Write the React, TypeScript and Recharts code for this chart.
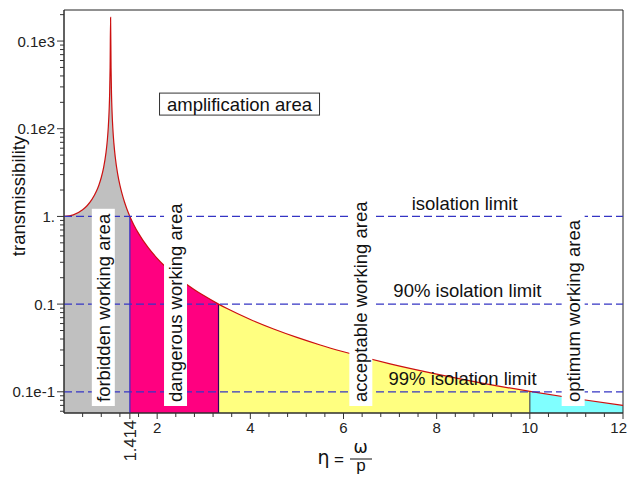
import React from 'react';
import {
  ComposedChart,
  Area,
  Line,
  XAxis,
  YAxis,
  ReferenceLine,
  ReferenceDot,
  ReferenceArea,
} from 'recharts';

// ---------- data ----------
const eta = [
  0, 0.2, 0.4, 0.5, 0.6, 0.7, 0.75, 0.8, 0.85, 0.9, 0.93, 0.95, 0.97, 0.98, 0.99, 1.0, 1.01, 1.02,
  1.03, 1.05, 1.07, 1.1, 1.15, 1.2, 1.25, 1.3, 1.35, 1.414, 1.5, 1.6, 1.8, 2.0, 2.2, 2.5, 2.8, 3.0,
  3.317, 3.5, 4, 4.5, 5, 5.5, 6, 7, 8, 9, 10, 11, 12,
];
const transmissibility = [
  1.0, 1.042, 1.19, 1.333, 1.563, 1.96, 2.286, 2.778, 3.604, 5.263, 7.4, 10.26, 16.9, 25.25, 50.3,
  186, 49.75, 24.75, 16.4, 9.76, 6.9, 4.76, 3.1, 2.27, 1.78, 1.449, 1.216, 1.0, 0.8, 0.641, 0.446,
  0.333, 0.26, 0.19, 0.146, 0.125, 0.1, 0.0889, 0.0667, 0.052, 0.0417, 0.0342, 0.0286, 0.0208,
  0.0159, 0.0125, 0.0101, 0.00833, 0.00699,
];

const zoneKeys = ['forbidden', 'dangerous', 'acceptable', 'optimum'];
const zoneBounds = [0, 1.414, 3.317, 10, 12];
const zoneLabels = [
  'forbidden working area',
  'dangerous working area',
  'acceptable working area',
  'optimum working area',
];
const zoneLabelEta = [0.844, 2.394, 6.372, 10.93];

const limitValues = [1, 0.1, 0.01];
const limitLabels = ['isolation limit', '90% isolation limit', '99% isolation limit'];
const limitLabelEta = [8.6, 8.66, 8.555];
const limitLabelValue = [1.42, 0.1448, 0.01403];

const amplificationLabel = 'amplification area';
const amplificationEta = 3.768;
const amplificationValue = 19.1;

const xMajorTicks = [2, 4, 6, 8, 10, 12];
const xSpecialTick = 1.414;
const xMinorTicks = [
  0.4, 0.8, 1.2, 1.6, 2.4, 2.8, 3.2, 3.6, 4.4, 4.8, 5.2, 5.6, 6.4, 6.8, 7.2, 7.6, 8.4, 8.8, 9.2, 9.6,
  10.4, 10.8, 11.2, 11.6,
];
const yMajorTicks = [0.01, 0.1, 1, 10, 100];
const yMajorLabels = ['0.1e-1', '0.1', '1.', '0.1e2', '0.1e3'];
const yMinorTicks = [
  0.006, 0.007, 0.008, 0.009, 0.02, 0.03, 0.04, 0.05, 0.06, 0.07, 0.08, 0.09, 0.2, 0.3, 0.4, 0.5,
  0.6, 0.7, 0.8, 0.9, 2, 3, 4, 5, 6, 7, 8, 9, 20, 30, 40, 50, 60, 70, 80, 90, 200,
];

const Y_MIN = 0.00573;
const Y_MAX = 226;
const X_MIN = 0;
const X_MAX = 12;

// ---------- table for the chart ----------
const chartData = eta.map((e, i) => {
  const row: Record<string, number | null> = { eta: e, t: transmissibility[i] };
  zoneKeys.forEach((k, z) => {
    row[k] = e >= zoneBounds[z] && e <= zoneBounds[z + 1] ? transmissibility[i] : null;
  });
  return row;
});

// ---------- styles ----------
const FONT = '"Liberation Sans", Arial, sans-serif';
const zoneColors = ['#c0c0c0', '#ff0080', '#ffff80', '#80ffff'];
const boundaryColors = ['#3030c0', '#300060', '#505050'];
const LABEL_SIZE = 18.5;
const TICK_SIZE = 15;

const measureCache: Record<string, number> = {};
function textWidth(s: string, size: number): number {
  const key = s + '|' + size;
  if (measureCache[key] !== undefined) return measureCache[key];
  let w = s.length * size * 0.47;
  try {
    const c = document.createElement('canvas').getContext('2d');
    if (c) {
      c.font = `${size}px "Liberation Sans"`;
      w = c.measureText(s).width;
    }
  } catch (e) {
    /* ignore */
  }
  measureCache[key] = w;
  return w;
}

const YTick = (props: any) => {
  const { x, y, payload } = props;
  const v = payload.value;
  const idx = yMajorTicks.indexOf(v);
  const major = idx >= 0;
  return (
    <g>
      <line x1={x - (major ? 7 : 4)} x2={x} y1={y} y2={y} stroke="#333" strokeWidth={1} />
      {major && (
        <text
          x={x - 9}
          y={y}
          textAnchor="end"
          dominantBaseline="central"
          fontSize={TICK_SIZE}
          fontFamily={FONT}
          fill="#222"
        >
          {yMajorLabels[idx]}
        </text>
      )}
    </g>
  );
};

const XTick = (props: any) => {
  const { x, y, payload } = props;
  const v = payload.value;
  const majorIdx = xMajorTicks.indexOf(v);
  if (v === xSpecialTick) {
    return (
      <g>
        <line x1={x} x2={x} y1={y} y2={y + 6} stroke="#333" strokeWidth={1} />
        <text
          x={x}
          y={y + 7}
          transform={`rotate(-90 ${x} ${y + 7})`}
          textAnchor="end"
          dominantBaseline="central"
          fontSize={16.5}
          fontFamily={FONT}
          fill="#222"
        >
          {String(xSpecialTick)}
        </text>
      </g>
    );
  }
  if (majorIdx >= 0) {
    const last = majorIdx === xMajorTicks.length - 1;
    return (
      <g>
        <line x1={x} x2={x} y1={y} y2={y + 6} stroke="#333" strokeWidth={1} />
        <text
          x={last ? x + 4 : x}
          y={y + 14}
          textAnchor={last ? 'end' : 'middle'}
          dominantBaseline="central"
          fontSize={TICK_SIZE}
          fontFamily={FONT}
          fill="#222"
        >
          {String(v)}
        </text>
      </g>
    );
  }
  return <line x1={x} x2={x} y1={y} y2={y + 4} stroke="#333" strokeWidth={1} />;
};

const allXTicks = [...xMinorTicks, xSpecialTick, ...xMajorTicks].sort((a, b) => a - b);
const allYTicks = [...yMinorTicks, ...yMajorTicks].sort((a, b) => a - b);

const VerticalLabel = (text: string) => (p: any) => {
  const { cx, cy } = p;
  const w = textWidth(text, LABEL_SIZE);
  return (
    <g>
      <rect x={cx - 11.5} y={cy - w - 5} width={23} height={w + 9} fill="#ffffff" />
      <text
        x={cx}
        y={cy}
        transform={`rotate(-90 ${cx} ${cy})`}
        textAnchor="start"
        dominantBaseline="central"
        fontSize={LABEL_SIZE}
        fontFamily={FONT}
        fill="#111"
      >
        {text}
      </text>
    </g>
  );
};

const HorizontalLabel = (text: string, boxed: boolean) => (p: any) => {
  const { cx, cy } = p;
  const w = textWidth(text, LABEL_SIZE);
  return (
    <g>
      {boxed && (
        <rect
          x={cx - w / 2 - 7.5}
          y={cy - 11}
          width={w + 15}
          height={22}
          fill="#ffffff"
          stroke="#333"
          strokeWidth={1}
        />
      )}
      <text
        x={cx}
        y={cy}
        textAnchor="middle"
        dominantBaseline="central"
        fontSize={LABEL_SIZE}
        fontFamily={FONT}
        fill="#111"
      >
        {text}
      </text>
    </g>
  );
};

export default function App() {
  const boundaryTop = (b: number) => transmissibility[eta.indexOf(b)];
  return (
    <div style={{ position: 'absolute', left: 0, top: 0, width: 629, height: 479, background: '#fff' }}>
      <ComposedChart
        width={629}
        height={479}
        data={chartData}
        margin={{ top: 10, right: 6, bottom: 0, left: 0 }}
      >
        <XAxis
          dataKey="eta"
          type="number"
          domain={[X_MIN, X_MAX]}
          allowDataOverflow
          ticks={allXTicks}
          interval={0}
          tick={(p: any) => <XTick {...p} />}
          tickLine={false}
          tickSize={0}
          tickMargin={0}
          height={66}
          axisLine={{ stroke: '#333' }}
        />
        <YAxis
          type="number"
          scale="log"
          domain={[Y_MIN, Y_MAX]}
          allowDataOverflow
          ticks={allYTicks}
          interval={0}
          tick={(p: any) => <YTick {...p} />}
          tickLine={false}
          tickSize={0}
          tickMargin={0}
          width={64}
          axisLine={{ stroke: '#333' }}
        />
        {zoneKeys.map((k, i) => (
          <Area
            key={k}
            dataKey={k}
            type="monotoneX"
            fill={zoneColors[i]}
            fillOpacity={1}
            stroke="none"
            baseValue={Y_MIN}
            connectNulls={false}
            isAnimationActive={false}
            dot={false}
            activeDot={false}
          />
        ))}
        {zoneBounds.slice(1, 4).map((b, i) => (
          <ReferenceLine
            key={'b' + b}
            segment={[
              { x: b, y: Y_MIN },
              { x: b, y: boundaryTop(b) },
            ]}
            stroke={boundaryColors[i]}
            strokeWidth={1.2}
            ifOverflow="visible"
          />
        ))}
        <Line
          dataKey="t"
          type="monotoneX"
          stroke="#cc1010"
          strokeWidth={1.2}
          dot={false}
          activeDot={false}
          isAnimationActive={false}
        />
        {limitValues.map((v) => (
          <ReferenceLine
            key={'l' + v}
            y={v}
            stroke="#3434c4"
            strokeWidth={1.3}
            strokeDasharray="8 4"
          />
        ))}
        {zoneLabels.map((t, i) => (
          <ReferenceDot
            key={t}
            x={zoneLabelEta[i]}
            y={0.00765}
            r={0}
            ifOverflow="visible"
            shape={VerticalLabel(t)}
          />
        ))}
        {limitLabels.map((t, i) => (
          <ReferenceDot
            key={t}
            x={limitLabelEta[i]}
            y={limitLabelValue[i]}
            r={0}
            ifOverflow="visible"
            shape={HorizontalLabel(t, false)}
          />
        ))}
        <ReferenceDot
          x={amplificationEta}
          y={amplificationValue}
          r={0}
          ifOverflow="visible"
          shape={HorizontalLabel(amplificationLabel, true)}
        />
        <ReferenceArea
          x1={X_MIN}
          x2={X_MAX}
          y1={Y_MIN}
          y2={Y_MAX}
          fill="none"
          fillOpacity={0}
          stroke="#222"
          strokeWidth={1}
          ifOverflow="visible"
        />
      </ComposedChart>
      <svg
        width={629}
        height={479}
        style={{ position: 'absolute', left: 0, top: 0, pointerEvents: 'none' }}
      >
        <text
          x={18}
          y={196}
          transform="rotate(-90 18 196)"
          textAnchor="middle"
          dominantBaseline="central"
          fontSize={LABEL_SIZE}
          fontFamily={FONT}
          fill="#111"
        >
          transmissibility
        </text>
        <text x={323.5} y={463.5} textAnchor="middle" fontSize={19} fontFamily='"DejaVu Sans", sans-serif' fill="#111">
          η
        </text>
        <text x={339} y={465} textAnchor="middle" fontSize={17} fontFamily={FONT} fill="#111">
          =
        </text>
        <text x={360.5} y={452.5} textAnchor="middle" fontSize={17} fontFamily='"DejaVu Sans", sans-serif' fill="#111">
          ω
        </text>
        <line x1={350} x2={372} y1={459} y2={459} stroke="#111" strokeWidth={1} />
        <text x={361} y={471} textAnchor="middle" fontSize={17} fontFamily={FONT} fill="#111">
          p
        </text>
      </svg>
    </div>
  );
}
